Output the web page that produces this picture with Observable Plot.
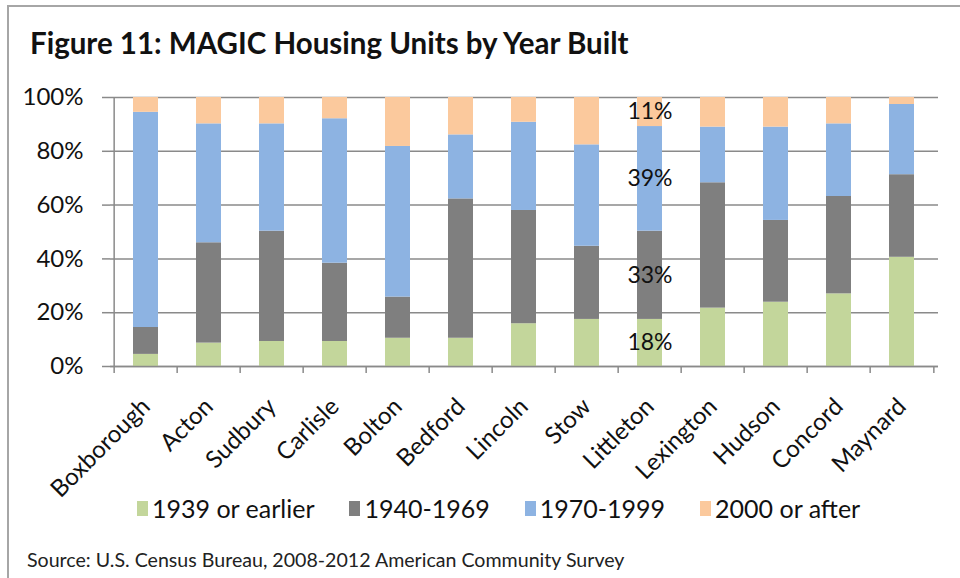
<!DOCTYPE html>
<html>
<head>
<meta charset="utf-8">
<script src="https://cdn.jsdelivr.net/npm/d3@7"></script>
<script src="https://cdn.jsdelivr.net/npm/@observablehq/plot@0.6"></script>
<style>
  html, body { margin: 0; padding: 0; background: #fff; }
  body { width: 960px; height: 578px; position: relative; overflow: hidden; font-family: Lato, "Open Sans", sans-serif; }
  #frame { position: absolute; left: 7px; top: 5px; width: 960px; height: 600px; border: 2px solid #a6a6a6; box-sizing: border-box; }
  #title { position: absolute; left: 30px; top: 25px; font-size: 29.5px; font-weight: bold; color: #111; white-space: nowrap; }
  #chart { position: absolute; left: 0; top: 0; }
  #legend { position: absolute; left: 137px; top: 493px; display: flex; gap: 35px; font-size: 25px; color: #111; white-space: nowrap; }
  #legend .item { display: flex; align-items: center; }
  #legend .sw { width: 11px; height: 15px; margin-right: 4px; }
  #caption { position: absolute; left: 27px; top: 548px; font-size: 19.6px; color: #222; white-space: nowrap; }
</style>
</head>
<body>
<div id="frame"></div>
<div id="chart"></div>
<div id="title">Figure 11: MAGIC Housing Units by Year Built</div>
<div id="legend"></div>
<div id="caption">Source: U.S. Census Bureau, 2008-2012 American Community Survey</div>
<script>
const towns = ["Boxborough","Acton","Sudbury","Carlisle","Bolton","Bedford","Lincoln","Stow","Littleton","Lexington","Hudson","Concord","Maynard"];
const seriesNames = ["1939 or earlier","1940-1969","1970-1999","2000 or after"];
const seriesColors = ["#c3d69b","#7f7f7f","#8db3e2","#fbc99d"];
const v1939 = [4.5, 8.7, 9.3, 9.3, 10.5, 10.5, 15.9, 17.5, 17.5, 21.7, 23.9, 27.0, 40.6];
const v1940 = [10.0, 37.3, 41.0, 29.1, 15.3, 51.8, 42.1, 27.2, 32.8, 46.6, 30.4, 36.2, 30.7];
const v1970 = [80.0, 44.2, 39.9, 53.7, 56.0, 23.8, 32.8, 37.7, 38.9, 20.7, 34.7, 27.0, 26.1];
const v2000 = [5.5, 9.8, 9.8, 7.9, 18.2, 13.9, 9.2, 17.6, 10.8, 11.0, 11.0, 9.8, 2.6];
const yTicks = [0, 20, 40, 60, 80, 100];
const labeledTown = "Littleton";

const seriesValues = [v1939, v1940, v1970, v2000];
const data = [];
towns.forEach((t, i) => {
  seriesNames.forEach((s, j) => data.push({town: t, series: s, value: seriesValues[j][i]}));
});

const W = 960, H = 520, ML = 110, MR = 22, MT = 97, MB = 154;
const step = (W - ML - MR) / towns.length;

const chart = Plot.plot({
  width: W, height: H,
  marginLeft: ML, marginRight: MR, marginTop: MT, marginBottom: MB,
  style: {fontFamily: "Lato, 'Open Sans', sans-serif", color: "#111", background: "transparent"},
  x: {domain: towns, paddingInner: 0.6, paddingOuter: 0.3, label: null},
  y: {domain: [0, 100], label: null},
  color: {domain: seriesNames, range: seriesColors},
  marks: [
    Plot.gridY(yTicks, {stroke: "#8a8a8a", strokeOpacity: 1, strokeWidth: 1.5}),
    Plot.barY(data, Plot.stackY({x: "town", y: "value", fill: "series", order: seriesNames})),
    Plot.ruleY([0], {stroke: "#8a8a8a", strokeWidth: 1.5}),
    Plot.ruleX([towns[0]], {x: d => d, dx: -step / 2, y1: 0, y2: 100, stroke: "#8a8a8a", strokeWidth: 1.5}),
    Plot.ruleX(towns, {x: d => d, dx: -step / 2, y1: 0, y2: 0, insetBottom: -7, stroke: "#8a8a8a", strokeWidth: 1.5}),
    Plot.ruleX([towns[towns.length - 1]], {x: d => d, dx: step / 2, y1: 0, y2: 0, insetBottom: -7, stroke: "#8a8a8a", strokeWidth: 1.5}),
    Plot.axisY({ticks: yTicks, tickFormat: d => d + "%", tickSize: 8, tickPadding: 19, fontSize: 24, stroke: "#8a8a8a", strokeWidth: 1.5, color: "#111"}),
    Plot.axisX({tickSize: 0, tickRotate: -45, tickPadding: 36, fontSize: 24, color: "#111"}),
    Plot.text(data.filter(d => d.town === labeledTown), Plot.stackY({x: "town", y: "value", z: "series", order: seriesNames, text: d => Math.round(d.value) + "%", fontSize: 23, fill: "#111"}))
  ]
});
document.getElementById("chart").appendChild(chart);

const legend = document.getElementById("legend");
seriesNames.forEach((s, i) => {
  const item = document.createElement("div");
  item.className = "item";
  const sw = document.createElement("span");
  sw.className = "sw";
  sw.style.background = seriesColors[i];
  const lab = document.createElement("span");
  lab.textContent = s;
  item.appendChild(sw);
  item.appendChild(lab);
  legend.appendChild(item);
});
</script>
</body>
</html>
